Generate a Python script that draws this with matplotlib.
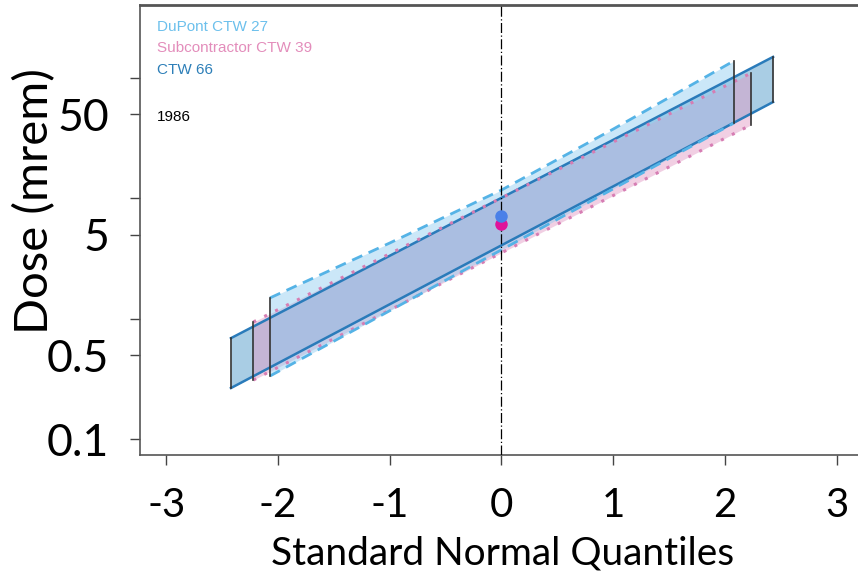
import numpy as np
import matplotlib.pyplot as plt

# Band edges (mrem) read at a few normal quantiles; the first and last are the band ends
dupont_z = [-2.07, 2.08]
dupont_upper_z = [-2.07, -1.0, 0.0, 1.0, 2.08]
dupont_upper = [1.49, 4.25, 11.7, 37.5, 138.0]
dupont_lower = [0.335, 42.1]

sub_z = [-2.22, 2.23]
sub_upper = [0.94, 109.0]
sub_lower = [0.31, 40.5]

ctw_z = [-2.42, 2.43]
ctw_upper = [0.69, 149.0]
ctw_lower = [0.266, 62.9]

# geometric means plotted at z = 0
gm_values = [7.12, 6.11]   # DuPont, Subcontractor

legend_labels = ["DuPont CTW 27", "Subcontractor CTW 39", "CTW 66"]
year_label = "1986"

x_ticks = [-3, -2, -1, 0, 1, 2, 3]
y_ticks = [0.1, 0.5, 5, 50]
y_minor = [1, 10, 100]

plt.rcParams['font.family'] = ['Lato', 'DejaVu Sans']

fig = plt.figure(figsize=(8.58, 5.76), dpi=100)
ax = fig.add_axes([140 / 858, 1 - 455 / 576, 1 - 140 / 858, 450 / 576])


def band(z_lo, lo, z_up, up, edge, fill, ls, lw, alpha):
    # common grid built from the read quantiles, edges in log space
    zz = np.union1d(z_lo, z_up)
    lo_i = 10 ** np.interp(zz, z_lo, np.log10(lo))
    up_i = 10 ** np.interp(zz, z_up, np.log10(up))
    ax.fill_between(zz, lo_i, up_i, color=fill, alpha=alpha, lw=0, zorder=2)
    ax.plot(z_up, up, color=edge, ls=ls, lw=lw, zorder=3)
    ax.plot(z_lo, lo, color=edge, ls=ls, lw=lw, zorder=3)
    for z0, a, b in [(z_lo[0], lo[0], up[0]), (z_lo[-1], lo[-1], up[-1])]:
        ax.plot([z0, z0], [a, b], color='#333333', lw=1.2, zorder=4)


band(ctw_z, ctw_lower, ctw_z, ctw_upper, '#2A7BBA', '#5A9FCD', '-', 1.8, 0.52)
band(sub_z, sub_lower, sub_z, sub_upper, '#D67DB3', '#E29CC6', (0, (1, 3)), 2.2, 0.48)
band(dupont_z, dupont_lower, dupont_upper_z, dupont_upper, '#55B3E6', '#8CCBF0',
     (0, (4, 2.5)), 2.0, 0.45)

ax.axvline(0, color='black', lw=0.9, ls=(0, (8, 2, 1, 2)), zorder=5)

ax.plot(0, gm_values[1], 'o', color='#E0129A', ms=9, mec='none', zorder=6)
ax.plot(0, gm_values[0], 'o', color='#4A80E8', ms=9, mec='none', zorder=7)

ax.set_yscale('log')
ax.set_xlim(-3.234, 3.19)
ax.set_ylim(10 ** -1.131, 10 ** 2.604)

ax.set_xticks(x_ticks)
ax.set_xticklabels([str(t) for t in x_ticks])
ax.set_yticks(y_ticks)
ax.set_yticklabels(['0.1', '0.5', '5', '50'])
ax.set_yticks(y_minor, minor=True)
ax.yaxis.set_minor_formatter(plt.NullFormatter())

ax.tick_params(axis='both', which='both', length=7.2, width=1.0, color='#444444',
               direction='out')
ax.tick_params(axis='x', labelsize=29, pad=16)
ax.tick_params(axis='y', labelsize=32, pad=15)

for s in ['left', 'bottom', 'top']:
    ax.spines[s].set_color('#555555')
    ax.spines[s].set_linewidth(1.2)
ax.spines['top'].set_linewidth(2.0)
ax.spines['right'].set_visible(False)

fig.text(0.5 * (268 + 738) / 858, 1 - 553 / 576, 'Standard Normal Quantiles',
         ha='center', va='center', fontsize=28)
fig.text(35 / 858, 1 - 201 / 576, 'Dose (mrem)', rotation=90,
         ha='center', va='center', fontsize=34)

leg_colors = ['#6CC0EC', '#E38DBB', '#2D7FB8']
for i, (lab, c) in enumerate(zip(legend_labels, leg_colors)):
    ax.text(0.024, 1 - (27 + 21.5 * i - 5) / 450, lab, transform=ax.transAxes,
            color=c, fontsize=11, family=['Liberation Sans', 'DejaVu Sans'],
            ha='left', va='center')
ax.text(0.024, 1 - (117 - 5) / 450, year_label, transform=ax.transAxes,
        color='black', fontsize=11, family=['Liberation Sans', 'DejaVu Sans'],
        ha='left', va='center')

fig.savefig('out.png', dpi=100)
